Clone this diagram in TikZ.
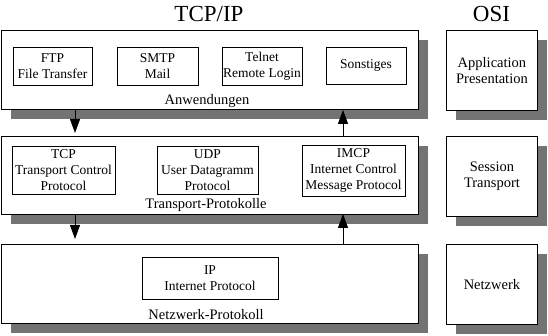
\documentclass[tikz,border=0pt]{standalone}
\usepackage{fontspec}
\setmainfont{Liberation Serif}
\usetikzlibrary{arrows.meta,shadows}
\begin{document}
\begin{tikzpicture}[x=1pt,y=-1pt,
  shadowed/.style={draw, line width=0.9pt, fill=white, anchor=north west, inner sep=0pt,
    drop shadow={shadow xshift=10pt, shadow yshift=-10pt, fill=black!55, opacity=1}},
  small/.style={draw, line width=0.9pt, fill=white, inner sep=0pt, align=center,
    font=\fontsize{13.5}{16}\selectfont},
  lbl/.style={font=\fontsize{14.5}{16}\selectfont, anchor=base},
  ositxt/.style={font=\fontsize{14.5}{15.5}\selectfont, align=center},
  ttl/.style={font=\fontsize{23}{26}\selectfont},
  arr/.style={line width=0.9pt, -{Triangle[width=10pt,length=14pt]}}]
\useasboundingbox (0,0) rectangle (548,336);
% layer boxes
\node[shadowed, minimum width=417pt, minimum height=79pt] (app) at (1,30) {};
\node[shadowed, minimum width=417pt, minimum height=78pt] (trans) at (1,136) {};
\node[shadowed, minimum width=417pt, minimum height=79pt] (net) at (1,244) {};
\node[shadowed, minimum width=91pt, minimum height=80pt] (osi1) at (446,30) {};
\node[shadowed, minimum width=91pt, minimum height=80pt] (osi2) at (446,136) {};
\node[shadowed, minimum width=91pt, minimum height=80pt] (osi3) at (446,244) {};
% titles
\node[ttl] (t1) at (209,14) {TCP/IP};
\node[ttl] (t2) at (491.5,14) {OSI};
% OSI text
\node[ositxt] (o1) at (osi1.center) {Application\\Presentation};
\node[ositxt] (o2) at (osi2.center) {Session\\Transport};
\node[ositxt] (o3) at (osi3.center) {Netzwerk};
% application boxes
\node[small, minimum width=79pt, minimum height=38pt] (ftp) at (52.5,66) {FTP\\File Transfer};
\node[small, minimum width=81pt, minimum height=38pt] (smtp) at (157.5,66) {SMTP\\Mail};
\node[small, minimum width=80pt, minimum height=38pt] (telnet) at (262,66) {Telnet\\Remote Login};
\node[small, minimum width=80pt, minimum height=37pt] (sonst) at (366,65.5) {Sonstiges};
\node[lbl] (l1) at (207,105) {Anwendungen};
% transport boxes
\node[small, minimum width=103pt, minimum height=48pt] (tcp) at (63.5,170) {TCP\\Transport Control\\Protocol};
\node[small, minimum width=101pt, minimum height=48pt] (udp) at (207.5,170) {UDP\\User Datagramm\\Protocol};
\node[small, minimum width=103pt, minimum height=51pt] (imcp) at (353.5,170.5) {IMCP\\Internet Control\\Message Protocol};
\node[lbl] (l2) at (206,209) {Transport-Protokolle};
% network box
\node[small, minimum width=136pt, minimum height=42pt] (ip) at (210,278) {IP\\Internet Protocol};
\node[lbl] (l3) at (206,319) {Netzwerk-Protokoll};
% arrows
\coordinate (dx) at (75,0);
\coordinate (ux) at (343,0);
\draw[arr] (app.south -| dx) -- ([yshift=3pt]trans.north -| dx);
\draw[arr] (trans.north -| ux) -- (app.south -| ux);
\draw[arr] (trans.south -| dx) -- ([yshift=5pt]net.north -| dx);
\draw[arr] (net.north -| ux) -- ([yshift=1pt]trans.south -| ux);
\end{tikzpicture}
\end{document}
